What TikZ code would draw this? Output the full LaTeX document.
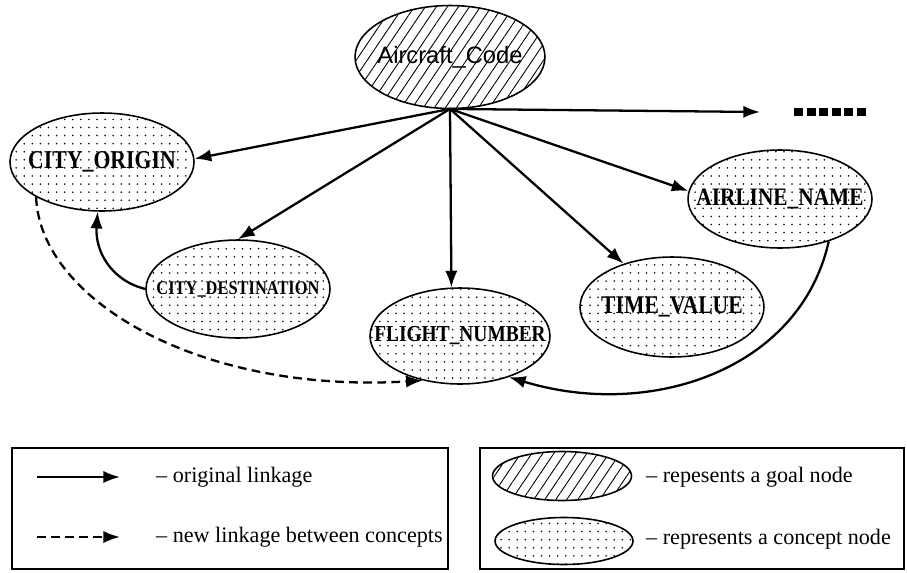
\documentclass[tikz,border=0pt]{standalone}
\usepackage{fontspec}
\setmainfont{Liberation Serif}
\newfontfamily\goalfont{Liberation Sans}
\newfontfamily\conceptfont[FakeStretch=0.85]{Liberation Serif}
\usetikzlibrary{shapes.geometric,patterns.meta,arrows.meta}

\begin{document}
\begin{tikzpicture}[x=0.02cm,y=-0.02cm,
    link/.style={line width=1.3pt,-{Latex[length=9.5pt,width=7pt]}},
    newlink/.style={link,dash pattern=on 5pt off 3pt},
    goal/.style={ellipse,draw,line width=.9pt,inner sep=0pt,
      pattern={Lines[angle=56,distance=5.2pt,line width=.5pt]},
      minimum width=3.8cm,minimum height=2.06cm},
    concept/.style={ellipse,draw,line width=.9pt,inner sep=0pt,
      pattern={Dots[distance=4.6pt,radius=.5pt]},
      minimum width=3.68cm,minimum height=1.96cm},
    keytxt/.style={anchor=west,font=\fontsize{12.6}{15}\selectfont}]
    \useasboundingbox (0,0) rectangle (907,572);

    %% goal node
    \node (code) at (450,57) [goal,font=\goalfont\fontsize{13.5}{16}\selectfont] {\makebox[0pt]{Aircraft\_Code}};

    %% concept nodes
    \node (cityorig) at (102,162) [concept,font=\conceptfont\bfseries\fontsize{14.6}{17}\selectfont] {\makebox[0pt]{CITY\_ORIGIN}};
    \node (citydest) at (238,289) [concept,font=\conceptfont\bfseries\fontsize{11}{13}\selectfont] {\makebox[0pt]{CITY\_DESTINATION}};
    \node (flight) at (460,336) [concept,minimum width=3.6cm,minimum height=1.92cm,
      font=\conceptfont\bfseries\fontsize{13}{15}\selectfont] {\makebox[0pt]{FLIGHT\_NUMBER}};
    \node (timeval) at (672,307) [concept,minimum height=2cm,font=\conceptfont\bfseries\fontsize{14.5}{17}\selectfont] {\makebox[0pt]{TIME\_VALUE}};
    \node (airline) at (780,199) [concept,font=\conceptfont\bfseries\fontsize{14.3}{17}\selectfont] {\makebox[0pt]{AIRLINE\_NAME}};
    \coordinate (more) at (760,112);

    %% original links
    \draw[link] (code.south) -- (cityorig.2);
    \draw[link] (code.south) -- (citydest.north);
    \draw[link] (code.south) -- (flight.100);
    \draw[link] (code.south) -- (timeval);
    \draw[link] (code.south) -- (airline.175);
    \draw[link] (code.south) -- (more);
    \foreach \i in {0,...,5}
      \fill (794+12.6*\i,108) rectangle +(9,8);
    \draw[link] (citydest.west) .. controls (110,280) and (95,250) .. (cityorig.265);
    \draw[link] (airline.-41) .. controls (800,370) and (650,420) .. (flight.-40);

    %% new link
    \draw[newlink] (cityorig.208) .. controls (40,300) and (200,394) .. (flight.230);

    %% legend
    \draw[line width=.9pt] (12,448) rectangle (448,569);
    \draw[line width=.9pt] (480,448) rectangle (904,569);
    \coordinate (sa) at (37,477);
    \coordinate (sb) at (120,477);
    \draw[link] (sa) -- (sb);
    \node (stxt) at (150,477) [keytxt] {– original linkage};
    \coordinate (da) at (37,537);
    \coordinate (db) at (120,537);
    \draw[newlink] (da) -- (db);
    \node (dtxt) at (150,537) [keytxt] {– new linkage between concepts};
    \node (goalkey) at (562,476) [goal,minimum width=2.78cm,minimum height=.98cm] {};
    \node (goaltxt) at (640,477) [keytxt] {– repesents a goal node};
    \node (conceptkey) at (564,541) [concept,minimum width=2.76cm,minimum height=.94cm] {};
    \node (concepttxt) at (640,539) [keytxt] {– represents a concept node};
\end{tikzpicture}
\end{document}
